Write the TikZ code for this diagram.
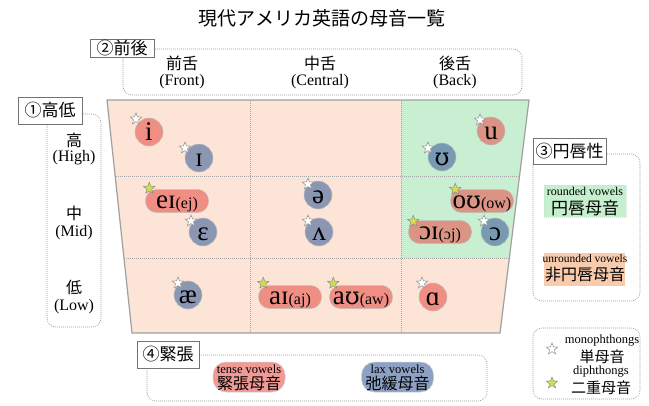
\documentclass[tikz,border=0pt]{standalone}
\usepackage{fontspec}
\setmainfont{Liberation Serif}
\newfontfamily\jp{Noto Sans CJK JP}
\newfontfamily\ipaalt{DejaVu Serif}
\usetikzlibrary{shapes.geometric}
\definecolor{peach}{HTML}{FCE4D6}
\definecolor{mint}{HTML}{C9EFD3}
\definecolor{tenseC}{HTML}{E8564E}
\definecolor{laxC}{HTML}{41629D}
\definecolor{starY}{HTML}{D2DE4A}
\definecolor{lgGreen}{HTML}{C6EFCE}
\definecolor{lgOrange}{HTML}{F8CBAD}
\definecolor{frameC}{HTML}{A0A0A0}
\newcommand{\fsz}[1]{\fontsize{#1}{#1}\selectfont}
\newcommand{\upsi}{{\ipaalt\fontsize{24}{24}\selectfont ʊ}}
\begin{document}
\begin{tikzpicture}[x=1pt,y=-1pt,
  vc/.style={circle,minimum size=28pt,inner sep=0pt,draw=black!25,line width=.5pt,fill opacity=.6,text opacity=1,font=\fsz{27},text height=16pt,text depth=0pt},
  tenseV/.style={vc,fill=tenseC},
  laxV/.style={vc,fill=laxC},
  pill/.style={rectangle,rounded corners=11pt,minimum width=63pt,minimum height=23pt,inner sep=0pt,draw=black!25,line width=.5pt,fill=tenseC,fill opacity=.6,text opacity=1,font=\fsz{27},text height=15pt,text depth=0pt},
  legpill/.style={rectangle,rounded corners=13pt,minimum width=72pt,minimum height=30pt,inner sep=0pt,draw=black!20,line width=.5pt,fill opacity=.6},
  mono/.style={star,star points=5,star point ratio=2.3,minimum size=12pt,inner sep=0pt,draw=black!45,fill=white,line width=.5pt},
  di/.style={mono,fill=starY},
  head/.style={draw=black!55,fill=white,font=\jp\fsz{17},inner sep=0pt,line width=.8pt},
  dbox/.style={draw=black!40,dash pattern=on 1pt off 1pt,rounded corners=9pt,line width=.6pt},
  grid/.style={draw=black!35,dash pattern=on 1pt off 1pt,line width=.6pt},
  lbl/.style={font=\fsz{16}},
  jlbl/.style={font=\jp\fsz{16}}
]
\useasboundingbox (0,0) rectangle (649,405);

% title
\node[font=\jp\fsz{19}] (title) at (322,18) {現代アメリカ英語の母音一覧};

% front/back
\draw[dbox] (123,49) rectangle (522,95);
\node[head,minimum width=64pt,minimum height=18pt] (hFB) at (122,48) {②前後};
\node[jlbl] (front) at (182,63) {前舌};
\node[lbl] (frontE) at (182,82) {(Front)};
\node[jlbl] (central) at (320,63) {中舌};
\node[lbl] (centralE) at (320,82) {(Central)};
\node[jlbl] (back) at (455,63) {後舌};
\node[lbl] (backE) at (455,82) {(Back)};

% trapezoid
\begin{scope}
\clip (107,100) -- (529,100) -- (500,333) -- (132,333) -- cycle;
\fill[peach] (100,95) rectangle (540,340);
\fill[mint] (401,95) rectangle (540,258);
\draw[grid] (250,95) -- (250,340);
\draw[grid] (401,95) -- (401,340);
\draw[grid] (100,176) -- (540,176);
\draw[grid] (100,258) -- (540,258);
\end{scope}
\draw[frameC,line width=1.2pt,line join=miter] (107,100) -- (529,100) -- (500,333) -- (132,333) -- cycle;

% high/low
\draw[dbox] (47,114) rectangle (101,327);
\node[head,minimum width=64pt,minimum height=27pt] (hHL) at (50,110.5) {①高低};
\node[jlbl] (high) at (74,140) {高};
\node[lbl] (highE) at (74,158) {(High)};
\node[jlbl] (mid) at (74,213) {中};
\node[lbl] (midE) at (74,233) {(Mid)};
\node[jlbl] (low) at (74,287) {低};
\node[lbl] (lowE) at (74,307) {(Low)};

% vowels
\node[tenseV] (i) at (149,132) {i};
\node[laxV] (I) at (199,158) {ɪ};
\node[pill] (ei) at (177,201) {eɪ{\fsz{16}(ej)}};
\node[laxV] (E) at (203,232) {ɛ};
\node[laxV] (ae) at (188,295) {æ};
\node[laxV] (schwa) at (318,195) {ə};
\node[laxV] (wedge) at (319,232) {ʌ};
\node[tenseV] (u) at (491,131) {u};
\node[laxV] (U) at (442,157) {\upsi};
\node[pill] (ou) at (482,201) {o\upsi{\fsz{16}(ow)}};
\node[pill] (oi) at (440,232) {ɔɪ{\fsz{16}(ɔj)}};
\node[laxV] (O) at (495,232) {ɔ};
\node[pill] (ai) at (290,297) {aɪ{\fsz{16}(aj)}};
\node[pill] (au) at (361,297) {a\upsi{\fsz{16}(aw)}};
\node[tenseV] (A) at (433,297) {ɑ};

% stars
\node[mono] (si) at ([shift={(-13,-13)}]i.center) {};
\node[mono] (sI) at ([shift={(-14,-10)}]I.center) {};
\node[mono] (sE) at ([shift={(-12,-11)}]E.center) {};
\node[mono] (sae) at ([shift={(-10,-12)}]ae.center) {};
\node[mono] (sschwa) at ([shift={(-10,-11)}]schwa.center) {};
\node[mono] (swedge) at ([shift={(-11,-11)}]wedge.center) {};
\node[mono] (su) at ([shift={(-11,-11)}]u.center) {};
\node[mono] (sU) at ([shift={(-14,-9)}]U.center) {};
\node[mono] (sO) at ([shift={(-11,-11)}]O.center) {};
\node[mono] (sA) at ([shift={(-11,-14)}]A.center) {};
\node[di] (sei) at ([shift={(4,-1)}]ei.north west) {};
\node[di] (sou) at ([shift={(5,0)}]ou.north west) {};
\node[di] (soi) at ([shift={(5,1)}]oi.north west) {};
\node[di] (sai) at ([shift={(5,-2)}]ai.north west) {};
\node[di] (sau) at ([shift={(4,-2)}]au.north west) {};

% rounding legend
\draw[dbox] (533,154) rectangle (640,301);
\node[head,minimum width=73pt,minimum height=26pt] (hR) at (569.5,151) {③円唇性};
\node[fill=lgGreen,draw=black!15,dash pattern=on 1pt off 1pt,minimum width=82pt,minimum height=32pt,inner sep=0pt] (rv) at (585,201) {};
\node[font=\fsz{12}] (rvE) at (585,191) {rounded vowels};
\node[font=\jp\fsz{17}] (rvJ) at (585,208) {円唇母音};
\node[fill=lgOrange,minimum width=81pt,minimum height=33pt,inner sep=0pt] (uv) at (584.5,269.5) {};
\node[font=\fsz{11.5}] (uvE) at (585,259) {unrounded vowels};
\node[font=\jp\fsz{16}] (uvJ) at (585,275) {非円唇母音};

% star legend
\draw[dbox] (533,328) rectangle (640,399);
\node[mono] (lmono) at (552,349) {};
\node[font=\fsz{12.5}] (monoE) at (602,341) {monophthongs};
\node[font=\jp\fsz{15}] (monoJ) at (602,357) {単母音};
\node[di] (ldi) at (552,383) {};
\node[font=\fsz{12.5}] (diE) at (601,372) {diphthongs};
\node[font=\jp\fsz{15}] (diJ) at (601,388) {二重母音};

% tense legend
\draw[dbox] (147,355) rectangle (487,401);
\node[head,minimum width=62pt,minimum height=27pt] (hT) at (168,354.5) {④緊張};
\node[legpill,fill=tenseC] (tp) at (249,377) {};
\node[font=\fsz{12.5}] (tpE) at (249,369) {tense vowels};
\node[font=\jp\fsz{16}] (tpJ) at (249,383) {緊張母音};
\node[legpill,fill=laxC] (lp) at (397.5,377) {};
\node[font=\fsz{12.5}] (lpE) at (397.5,369) {lax vowels};
\node[font=\jp\fsz{16}] (lpJ) at (397.5,383) {弛緩母音};
\end{tikzpicture}
\end{document}
